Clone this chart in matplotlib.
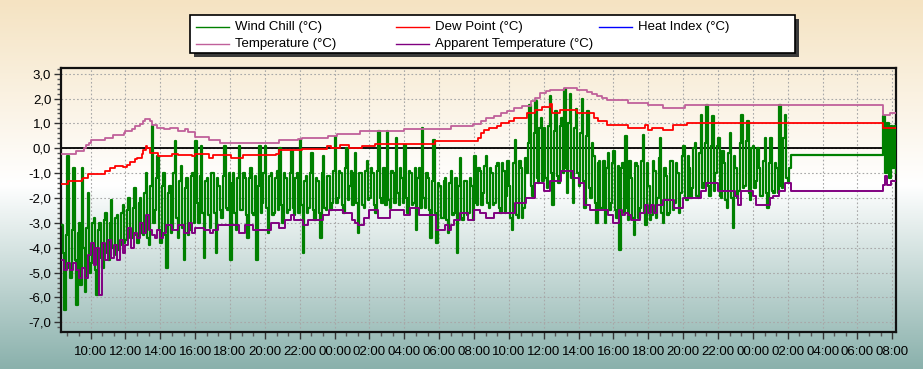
import numpy as np
import matplotlib
matplotlib.use('Agg')
import matplotlib.pyplot as plt
from matplotlib.ticker import FixedLocator, FuncFormatter, AutoMinorLocator, MultipleLocator
from matplotlib.colors import LinearSegmentedColormap
from matplotlib.lines import Line2D
from matplotlib.patches import Rectangle

plt.rcParams['font.family'] = ['Liberation Sans', 'DejaVu Sans']

# time is in hours from midnight of the first day (24 = 00:00 next day)
temp_t = [8.33, 9.15, 9.6, 9.75, 9.9, 10.05, 10.8, 11.3, 11.9, 12.0, 12.35, 12.55, 12.85, 13.0, 13.1,
          13.4, 13.5, 13.8, 14.2, 14.55, 15.0, 15.4, 15.6, 15.98, 16.8, 17.4, 20.8, 21.9, 22.1, 23.6,
          24.15, 25.45, 28.0, 30.7, 31.95, 32.38, 32.67, 33.14, 33.52, 33.9, 34.29, 34.76, 35.24, 35.52,
          35.81, 36.1, 36.38, 37.14, 37.9, 38.48, 38.76, 39.05, 39.33, 39.62, 40.85, 42.0, 42.86, 44.1,
          55.49, 55.87, 56.25]
temp_v = [-0.22, -0.10, 0.0, 0.12, 0.22, 0.33, 0.40, 0.55, 0.62, 0.71, 0.78, 0.88, 0.98, 1.08, 1.19,
          1.10, 0.92, 0.82, 0.76, 0.80, 0.71, 0.76, 0.67, 0.44, 0.33, 0.20, 0.32, 0.38, 0.40, 0.48,
          0.57, 0.71, 0.78, 0.90, 0.99, 1.11, 1.22, 1.30, 1.42, 1.52, 1.62, 1.72, 1.89, 2.02,
          2.22, 2.32, 2.36, 2.41, 2.36, 2.25, 2.17, 2.09, 2.02, 1.95, 1.82, 1.76, 1.62, 1.74,
          1.33, 1.42, 1.42]

dew_t = [8.33, 8.72, 9.48, 9.58, 9.87, 10.82, 11.11, 11.4, 11.87, 12.06, 12.25, 12.54, 12.64, 12.93,
         13.02, 13.17, 13.25, 13.4, 13.88, 14.65, 15.03, 15.79, 15.98, 16.82, 17.0, 18.06, 18.72, 20.63,
         20.82, 22.15, 23.58, 23.77, 24.32, 24.8, 25.56, 26.32, 29.75, 32.23, 32.38, 32.57, 32.86, 33.33,
         33.52, 34.0, 34.29, 35.05, 35.52, 35.9, 36.38, 36.48, 36.95, 37.9, 38.86, 39.14, 39.62, 40.85,
         41.81, 42.0, 42.19, 42.86, 43.43, 44.2, 55.49, 56.25]
dew_v = [-1.43, -1.30, -1.22, -1.19, -1.03, -0.90, -0.79, -0.70, -0.77, -0.66, -0.55, -0.45, -0.39, -0.22,
         -0.05, 0.08, 0.01, -0.19, -0.32, -0.23, -0.26, -0.32, -0.23, -0.39, -0.28, -0.39, -0.28, -0.23,
         -0.08, -0.03, 0.11, 0.01, 0.12, 0.01, 0.08, 0.19, 0.31, 0.42, 0.62, 0.75, 0.82, 0.89,
         1.02, 1.11, 1.22, 1.42, 1.55, 1.65, 1.78, 1.42, 1.55, 1.42, 1.22, 1.09, 0.95, 0.82,
         0.93, 0.75, 0.82, 0.75, 0.93, 1.02, 0.82, 0.82]

# wind chill, one value every 5 minutes from 08:20 to 02:10 (day 3)
chill_v = [-3.1, -4.2, -6.5, -3.5, -0.3, -4.8, -5.2, -3.3,                          # 08
           -0.8, -4.5, -6.3, -3.4, -3.0, -5.5, -0.8, -4.0, -5.8, -3.2, -1.8, -5.0,  # 09
           -4.6, -3.0, -2.8, -4.9, -5.9, -3.3, -3.0, -4.4, -4.8, -2.9, -2.6, -4.2,  # 10
           -4.5, -3.0, -2.1, -4.0, -4.3, -2.8, -2.7, -4.1, -3.9, -2.6, -2.3, -3.8,  # 11
           -3.7, -2.5, -2.0, -3.6, -3.6, -2.4, -1.6, -3.5, -3.8, -2.2, -2.0, -3.4,  # 12
           -3.5, -1.8, -1.0, -3.6, -3.9, -1.5, 0.9, -3.0, -2.5, -1.2, -0.3, -3.3,   # 13
           -3.8, -1.5, -1.0, -3.5, -4.8, -1.8, -1.5, -3.4, -3.2, -1.0, 0.3, -2.8,   # 14
           -3.6, -1.3, -0.7, -3.2, -4.5, -1.6, -1.2, -3.5, -3.3, -1.1, -1.0, -3.0,  # 15
           0.3, -2.2, -3.0, -1.1, 0.1, -2.6, -4.4, -1.3, -1.2, -2.7, -3.2, -1.0,    # 16
           -1.0, -2.6, -4.2, -1.2, -1.5, -2.5, -2.8, -1.1, 0.1, -2.4, -2.5, -1.0,   # 17
           -4.5, -1.4, -1.0, -2.6, -3.3, -1.2, 0.1, -2.5, -2.5, -1.0, -1.2, -2.7,   # 18
           -3.6, -1.2, -0.8, -2.6, -2.7, -1.1, -4.5, -1.5, 0.1, -2.6, -2.2, -1.0,   # 19
           0.1, -2.4, -3.4, -1.1, -1.0, -2.7, -2.6, -1.2, -0.9, -2.5, 0.0, -2.3,    # 20
           -3.0, -1.0, -1.2, -2.6, -2.5, -1.0, -0.1, -2.4, -2.7, -1.2, -1.0, -2.6,  # 21
           0.35, -2.3, -4.2, -1.3, -1.1, -2.6, -2.4, -1.0, -0.2, -2.5, -2.9, -1.2,  # 22
           -1.3, -2.6, -3.6, -1.0, -0.3, -2.4, -2.5, -1.1, -1.1, -2.5, -2.2, -0.9,  # 23
           0.45, -2.2, -2.0, -0.9, -1.0, -2.3, -2.6, -0.8, 0.0, -2.1, -1.5, -0.9,   # 00
           -2.3, -1.0, -0.2, -2.2, -3.4, -1.0, -1.0, -2.3, -2.4, -0.9, -0.5, -2.1,  # 01
           -2.0, -0.8, -1.0, -2.3, -2.6, -0.9, 0.7, -2.0, -2.2, -0.8, -0.8, -2.3,   # 02
           0.7, -2.1, -2.4, -0.9, -1.0, -2.2, 0.4, -1.8, -2.3, -0.8, -1.2, -2.2,    # 03
           0.15, -2.0, -2.6, -0.9, -1.0, -2.3, -2.2, -0.8, -3.3, -1.2, -0.8, -2.4,  # 04
           0.8, -2.0, -2.4, -1.0, -1.2, -2.5, -3.6, -1.3, 0.35, -2.6, -3.8, -1.4,   # 05
           -1.5, -2.8, -2.8, -1.3, -1.2, -2.9, -3.4, -1.4, -0.9, -2.7, -2.6, -1.2,  # 06
           -4.2, -1.5, -0.4, -2.8, -2.9, -1.3, -1.3, -2.7, -2.6, -1.2, -1.5, -2.9,  # 07
           -0.3, -2.2, -2.3, -0.8, -0.9, -2.3, -1.8, -0.7, -0.3, -2.2, -2.4, -0.8,  # 08
           -1.0, -2.3, -2.2, -0.7, -0.6, -2.4, -2.6, -0.6, -0.9, -2.6, -1.9, -0.5,  # 09
           -1.5, -2.8, -3.3, -0.6, 0.35, -2.7, -2.8, -0.5, -0.8, -2.8, -2.4, -0.4,  # 10
           -1.0, 0.2, 1.75, -1.5, -1.9, 0.6, 1.9, -1.2, -1.4, 0.8, 1.2, -1.3,       # 11
           0.8, -1.2, -1.6, 0.9, 2.1, -1.0, -2.3, 0.7, 1.5, -1.1, -1.4, 0.9,        # 12
           1.2, -1.0, 2.4, -0.8, -1.8, 1.0, 2.2, -1.2, -2.2, 0.8, 1.6, -1.0,        # 13
           -1.5, 0.6, 2.0, -1.3, -2.4, 0.5, 1.5, -1.6, -2.0, 0.2, -0.3, -2.2,       # 14
           -3.0, -0.6, -0.5, -2.4, -2.4, -0.5, -3.0, -0.8, -0.2, -2.5, -2.2, -0.6,  # 15
           -0.1, -2.5, -2.8, -0.7, -4.1, -0.8, -0.6, -2.6, 0.5, -2.4, -2.9, -0.5,   # 16
           -1.2, -2.8, -3.5, -0.6, -0.7, -2.8, -2.4, -0.5, 0.55, -2.6, -3.1, -0.6,  # 17
           -1.5, -2.9, -2.7, -0.5, -0.9, -2.8, -2.0, -0.4, 0.4, -2.6, -3.0, -0.8,   # 18
           -1.1, -2.7, -2.6, -0.5, -0.5, -2.5, -2.2, -0.6, -1.0, -2.6, -1.8, -0.3,  # 19
           0.1, -2.0, -2.1, -0.3, -0.8, -2.0, -1.6, 0.0, 0.2, -1.9, -2.0, -0.2,     # 20
           1.35, -1.6, -1.4, 0.2, 1.75, -1.5, -1.9, 0.1, 1.3, -1.7, -1.0, 0.1,      # 21
           0.4, -1.9, -2.0, -0.1, -0.6, -2.1, -2.4, -0.2, 0.6, -2.0, -3.2, -0.3,    # 22
           -0.8, -2.0, -1.7, 0.2, 1.35, -1.6, -1.5, 0.3, 1.1, -1.8, -2.1, 0.0,      # 23
           0.1, -1.6, -1.3, 0.0, -0.8, -1.9, -1.9, -0.5, 0.4, -1.8, -2.4, -0.6,     # 00
           0.4, -1.7, -1.8, -0.6, -0.8, -1.8, 1.75, -1.5, -1.6, 0.4, 1.35, -1.2,    # 01
           -1.4, -0.8, -0.28]                                                       # 02

# apparent temperature, one value every 10 minutes from 08:20 to 02:10 (day 3)
apparent_v = [-4.5, -4.9, -4.6, -4.9,
              -4.6, -4.9, -5.2, -4.8, -5.2, -4.3,
              -3.8, -4.7, -4.0, -5.9, -3.8, -4.5,
              -3.7, -4.4, -3.9, -4.5, -3.7, -4.2,
              -3.9, -3.2, -4.0, -3.4, -3.6, -3.0,
              -3.4, -2.7, -3.3, -3.5, -3.6, -3.3,
              -3.6, -3.4, -3.1, -3.1, -3.3, -3.3,
              -3.1, -3.1, -3.4, -3.4, -3.0, -3.4,
              -3.2, -3.2, -3.2, -3.3, -3.3, -3.4,
              -3.3, -3.3, -3.1, -3.1, -3.1, -3.1,
              -3.1, -3.1, -3.1, -3.4, -3.4, -3.1,
              -3.1, -3.1, -3.3, -3.3, -3.3, -3.3,
              -3.3, -3.3, -3.0, -3.0, -3.0, -3.2,
              -3.2, -2.9, -2.9, -2.7, -2.9, -2.9,
              -2.9, -3.1, -3.1, -2.9, -2.9, -2.9,
              -2.9, -2.9, -2.7, -2.7, -2.5, -2.5,
              -2.5, -2.5, -2.5, -2.6, -2.6, -2.6,
              -2.9, -3.0, -3.1, -3.1, -2.8, -2.8,
              -2.5, -2.5, -2.5, -2.8, -2.8, -2.8,
              -2.8, -2.5, -2.5, -2.5, -2.5, -2.5,
              -2.7, -2.7, -2.4, -2.4, -2.4, -2.7,
              -2.7, -2.7, -2.7, -2.7, -2.7, -3.3,
              -3.3, -3.3, -3.1, -3.3, -3.1, -2.9,
              -2.9, -2.6, -2.6, -2.6, -2.9, -2.9,
              -2.5, -2.5, -2.6, -2.6, -2.8, -2.8,
              -2.8, -2.6, -2.6, -2.6, -2.6, -2.6,
              -2.6, -2.6, -2.2, -2.2, -2.2, -2.2,
              -2.0, -2.0, -2.0, -1.4, -1.4, -1.4,
              -1.7, -1.7, -1.3, -1.3, -1.3, -1.3,
              -0.9, -0.9, -0.9, -0.9, -1.2, -1.2,
              -1.4, -1.4, -2.3, -2.3, -2.5, -2.5,
              -2.5, -2.5, -2.5, -2.5, -2.7, -2.7,
              -3.0, -3.0, -2.5, -2.7, -2.6, -2.7,
              -2.9, -2.9, -2.9, -2.6, -2.6, -2.3,
              -2.6, -2.3, -2.6, -2.3, -2.3, -2.1,
              -2.1, -2.1, -2.1, -2.4, -2.4, -2.4,
              -2.0, -2.0, -2.0, -2.0, -2.0, -2.0,
              -1.7, -1.7, -1.4, -1.4, -1.4, -1.4,
              -1.7, -1.7, -1.7, -1.7, -1.7, -1.7,
              -1.9, -2.3, -1.7, -1.7, -1.7, -1.7,
              -1.9, -2.3, -2.3, -2.3, -2.3, -2.3,
              -2.0, -1.9, -1.9, -1.7, -1.7, -1.4,
              -1.4, -1.7]

# readings after the data gap (07:30 - 08:15 on day 3)
late_t = [55.49, 55.6, 55.7, 55.8, 55.9, 56.0, 56.1, 56.2]
late_chill = [1.3, -1.0, 1.0, -1.2, 0.9, -0.8, 0.9, -1.0]
late_apparent = [-1.47, -1.1, -1.47, -1.47, -1.33, -1.33, -1.33, -1.33]

t0 = 8 + 20 / 60
chill_t = np.concatenate([t0 + np.arange(len(chill_v)) / 12, late_t])
chill_all = np.concatenate([chill_v, late_chill])
app_t = np.concatenate([t0 + np.arange(len(apparent_v)) / 6, late_t])
app_all = np.concatenate([apparent_v, late_apparent])

W, H = 923, 369
fig = plt.figure(figsize=(W / 100, H / 100), dpi=100)

# background gradient
bg = fig.add_axes([0, 0, 1, 1], zorder=-10)
cmap = LinearSegmentedColormap.from_list('bg', [(0, '#f5e3c2'), (0.5, '#ffffff'), (1, '#8ab1ac')])
bg.imshow(np.linspace(0, 1, 256).reshape(-1, 1), aspect='auto', cmap=cmap, extent=[0, 1, 0, 1])
bg.axis('off')

ax = fig.add_axes([61 / W, 1 - 332 / H, (896 - 61) / W, (332 - 68) / H])
ax.set_facecolor('none')

ax.plot(chill_t, chill_all, color='#008000', lw=1.6, drawstyle='steps-post', zorder=3)
ax.plot(app_t, app_all, color='#800080', lw=1.4, drawstyle='steps-post', zorder=4)
ax.plot(dew_t, dew_v, color='#ff0000', lw=1.3, drawstyle='steps-post', zorder=5)
ax.plot(temp_t, temp_v, color='#c0609a', lw=1.3, drawstyle='steps-post', zorder=5)
ax.axhline(0, color='black', lw=1.3, zorder=2)

ax.set_xlim(8.30, 56.21)
ax.set_ylim(-7.39, 3.23)
ax.xaxis.set_major_locator(FixedLocator(range(10, 57, 2)))
ax.xaxis.set_major_formatter(FuncFormatter(lambda v, p: '%02d:00' % (int(round(v)) % 24)))
ax.xaxis.set_minor_locator(AutoMinorLocator(3))
ax.yaxis.set_major_locator(MultipleLocator(1))
ax.yaxis.set_minor_locator(AutoMinorLocator(5))
ax.yaxis.set_major_formatter(FuncFormatter(lambda v, p: ('%.1f' % v).replace('.', ',')))
ax.tick_params(which='major', length=5, width=1, labelsize=9.5, color='#333333')
ax.tick_params(which='minor', length=3, width=1, color='#555555')
ax.tick_params(axis='x', pad=5)
ax.tick_params(axis='y', pad=2)
ax.grid(True, which='major', color='#a8a8a8', linestyle=(0, (1.5, 2)), linewidth=0.8, zorder=1)
for s in ax.spines.values():
    s.set_linewidth(1.6)
    s.set_color('#111111')

# legend box drawn in pixel positions
def fx(x):
    return x / W

def fy(y):
    return 1 - y / H

fig.patches.append(Rectangle((fx(194), fy(57)), 605 / W, 38 / H, transform=fig.transFigure,
                             facecolor='#3a3a3a', edgecolor='none', zorder=5))
fig.patches.append(Rectangle((fx(190), fy(53)), 605 / W, 38 / H, transform=fig.transFigure,
                             facecolor='white', edgecolor='black', lw=1.2, zorder=6))
entries = [('Wind Chill (°C)', '#008000', 196, 27), ('Dew Point (°C)', '#ff0000', 396, 27),
           ('Heat Index (°C)', '#0000ff', 599, 27), ('Temperature (°C)', '#c0609a', 196, 44),
           ('Apparent Temperature (°C)', '#800080', 396, 44)]
for label, col, x, y in entries:
    fig.lines.append(Line2D([fx(x), fx(x + 33)], [fy(y), fy(y)], transform=fig.transFigure,
                            color=col, lw=1.0, zorder=7))
    fig.text(fx(x + 39), fy(y), label, fontsize=9.5, va='center', ha='left', zorder=8)

fig.savefig('out.png', dpi=100)
